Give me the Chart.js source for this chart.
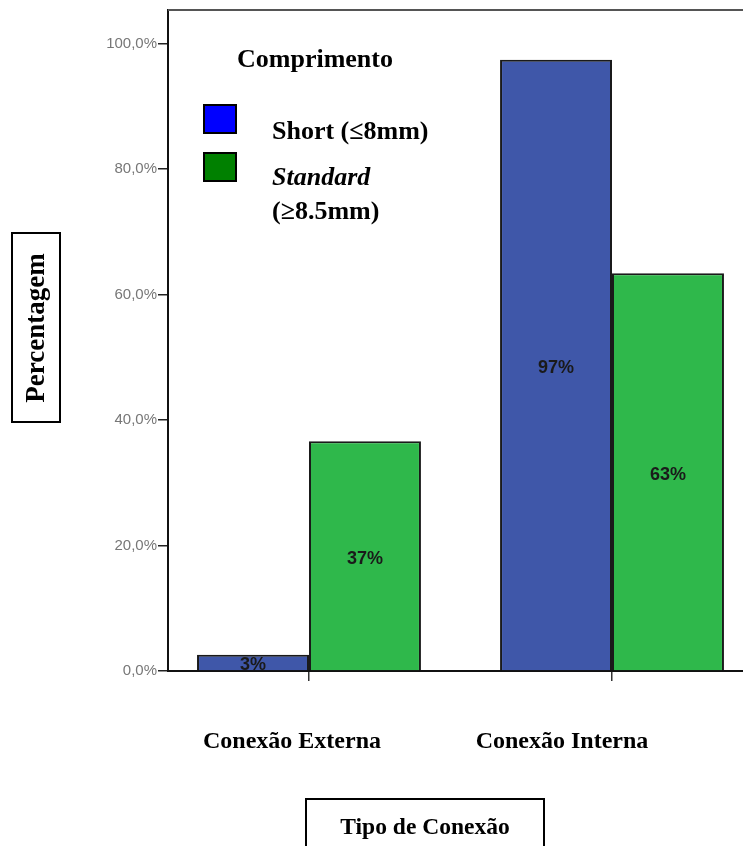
<!DOCTYPE html>
<html>
<head>
<meta charset="utf-8">
<script src="https://cdn.jsdelivr.net/npm/chart.js@4"></script>
<style>
  html, body { margin: 0; padding: 0; background: #fff; overflow: hidden; }
  #wrap { width: 743px; height: 846px; position: relative; }
</style>
</head>
<body>
<div id="wrap"><canvas id="c" width="743" height="846"></canvas></div>
<script>
// Categories and percentages by implant length
const categories = ['Conexão Externa', 'Conexão Interna'];
const shortPct = [2.6, 97.4];
const standardPct = [36.6, 63.4];
const seriesNames = ['Short (≤8mm)', 'Standard (≥8.5mm)'];
const yTicks = [0, 20, 40, 60, 80, 100];

const barColors = ['#3F57A9', '#2FB84B'];
const legendColors = ['#0000FF', '#008000'];
// horizontal nudge of each category caption relative to its tick (px)
const captionShift = [-17, -50];

const SERIF = '"Liberation Serif", "Times New Roman", serif';
const SANS = '"Liberation Sans", Arial, sans-serif';

// Frame line along the top of the plot area
const topFrame = {
  id: 'topFrame',
  afterDraw(chart) {
    const { ctx, chartArea } = chart;
    ctx.save();
    ctx.strokeStyle = '#555';
    ctx.lineWidth = 2;
    ctx.beginPath();
    ctx.moveTo(chartArea.left, chartArea.top);
    ctx.lineTo(chartArea.right, chartArea.top);
    ctx.stroke();
    ctx.restore();
  }
};

// Rounded percentage written in the middle of each bar
const barValueLabels = {
  id: 'barValueLabels',
  afterDatasetsDraw(chart) {
    const { ctx } = chart;
    ctx.save();
    ctx.font = 'bold 18px ' + SANS;
    ctx.fillStyle = '#1a1a1a';
    ctx.textAlign = 'center';
    ctx.textBaseline = 'middle';
    chart.data.datasets.forEach((ds, di) => {
      chart.getDatasetMeta(di).data.forEach((bar, i) => {
        const v = ds.data[i].y;
        ctx.fillText(Math.round(v) + '%', bar.x, (bar.y + bar.base) / 2 + 3);
      });
    });
    ctx.restore();
  }
};

// Category captions under the x axis
const categoryCaptions = {
  id: 'categoryCaptions',
  afterDraw(chart) {
    const { ctx } = chart;
    const xs = chart.scales.x;
    ctx.save();
    ctx.font = 'bold 24px ' + SERIF;
    ctx.fillStyle = '#000';
    ctx.textAlign = 'center';
    ctx.textBaseline = 'middle';
    categories.forEach((c, i) => {
      ctx.fillText(c, xs.getPixelForValue(i) + captionShift[i], xs.top + 71);
    });
    ctx.restore();
  }
};

// Legend block inside the plot, plus boxed axis titles
const decorations = {
  id: 'decorations',
  afterDraw(chart) {
    const { ctx } = chart;
    ctx.save();
    ctx.fillStyle = '#000';
    ctx.textBaseline = 'middle';
    ctx.textAlign = 'left';

    // legend
    ctx.font = 'bold 26px ' + SERIF;
    ctx.fillText('Comprimento', 237, 60);

    ctx.lineWidth = 2;
    ctx.strokeStyle = '#000';
    [105, 153].forEach((top, i) => {
      ctx.fillStyle = legendColors[i];
      ctx.fillRect(204, top, 32, 28);
      ctx.strokeRect(204, top, 32, 28);
    });
    ctx.fillStyle = '#000';
    ctx.font = 'bold 26px ' + SERIF;
    ctx.fillText(seriesNames[0], 272, 132);
    const [stdWord, stdRange] = seriesNames[1].split(' ');
    ctx.font = 'italic bold 26px ' + SERIF;
    ctx.fillText(stdWord, 272, 178);
    ctx.font = 'bold 26px ' + SERIF;
    ctx.fillText(stdRange, 272, 212);

    // y-axis title box
    ctx.lineWidth = 2;
    ctx.strokeRect(12, 233, 48, 189);
    ctx.save();
    ctx.translate(37, 328);
    ctx.rotate(-Math.PI / 2);
    ctx.textAlign = 'center';
    ctx.font = 'bold 27px ' + SERIF;
    ctx.fillText('Percentagem', 0, 0);
    ctx.restore();

    // x-axis title box
    ctx.strokeRect(306, 799, 238, 60);
    ctx.textAlign = 'center';
    ctx.font = 'bold 23.5px ' + SERIF;
    ctx.fillText('Tipo de Conexão', 425, 828);
    ctx.restore();
  }
};

new Chart(document.getElementById('c'), {
  type: 'bar',
  data: {
    datasets: [
      {
        label: seriesNames[0],
        data: categories.map((c, i) => ({ x: i, y: shortPct[i] })),
        backgroundColor: barColors[0],
        borderColor: '#1a1a1a',
        borderWidth: 2,
        categoryPercentage: 0.739,
        barPercentage: 1
      },
      {
        label: seriesNames[1],
        data: categories.map((c, i) => ({ x: i, y: standardPct[i] })),
        backgroundColor: barColors[1],
        borderColor: '#1a1a1a',
        borderWidth: 2,
        categoryPercentage: 0.739,
        barPercentage: 1
      }
    ]
  },
  options: {
    responsive: false,
    animation: false,
    devicePixelRatio: 1,
    layout: { padding: { top: 9, right: 0, left: 0, bottom: 0 } },
    plugins: {
      legend: { display: false },
      tooltip: { enabled: false },
      title: { display: false }
    },
    scales: {
      x: {
        type: 'linear',
        offset: false,
        min: -0.4653,
        max: 1.4323,
        afterBuildTicks: axis => { axis.ticks = categories.map((c, i) => ({ value: i })); },
        afterFit: axis => { axis.height = 175; },
        ticks: { display: false },
        grid: { offset: false, drawOnChartArea: false, drawTicks: true, tickLength: 10, color: '#333', lineWidth: 1.5 },
        border: { color: '#111', width: 2 }
      },
      y: {
        min: 0,
        max: 105.33,
        afterBuildTicks: axis => { axis.ticks = yTicks.map(v => ({ value: v })); },
        afterFit: axis => { axis.width = 168; },
        ticks: {
          padding: 1,
          color: '#777',
          font: { family: SANS, size: 15 },
          callback: v => v.toFixed(1).replace('.', ',') + '%'
        },
        grid: { drawOnChartArea: false, drawTicks: true, tickLength: 10, color: '#222', lineWidth: 1.5 },
        border: { color: '#111', width: 2 }
      }
    }
  },
  plugins: [topFrame, barValueLabels, categoryCaptions, decorations]
});
</script>
</body>
</html>
